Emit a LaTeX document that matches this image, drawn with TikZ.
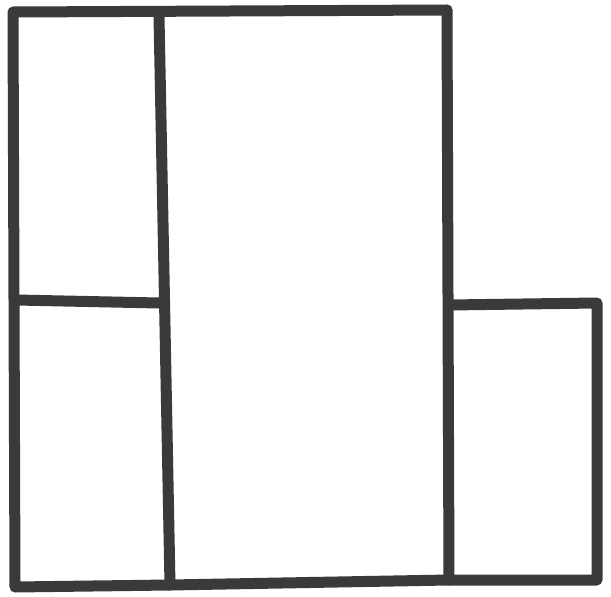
\documentclass[tikz,border=0pt]{standalone}
\usepackage{tikz}
\definecolor{inkgrey}{RGB}{58,58,58}
\tikzset{
  ink/.style={draw=inkgrey,line width=11pt,line cap=round,line join=round},
}
\begin{document}
\begin{tikzpicture}[x=1pt,y=-1pt]
  \useasboundingbox (0,0) rectangle (611,597);
  % corners of the tall frame
  \coordinate (tl) at (13,12);
  \coordinate (tr) at (447,10);
  \coordinate (bl) at (15,587);
  \coordinate (br) at (449,580);
  % small box on the right
  \coordinate (stl) at (449,305);
  \coordinate (str) at (597,303);
  \coordinate (sbr) at (597,580);
  % inner divider and the shelf on the left
  \coordinate (dtop) at (159,16);
  \coordinate (dbot) at (170,585);
  \coordinate (shl) at (16,300);
  \coordinate (shr) at (159,303);

  \draw[ink] (tr) -- (tl) -- (bl) -- (dbot) -- (br) -- (sbr) -- (str) -- (stl);
  \draw[ink] (tr) -- (br);
  \draw[ink] (dtop) -- (dbot);
  \draw[ink] (shl) -- (shr);
\end{tikzpicture}
\end{document}
